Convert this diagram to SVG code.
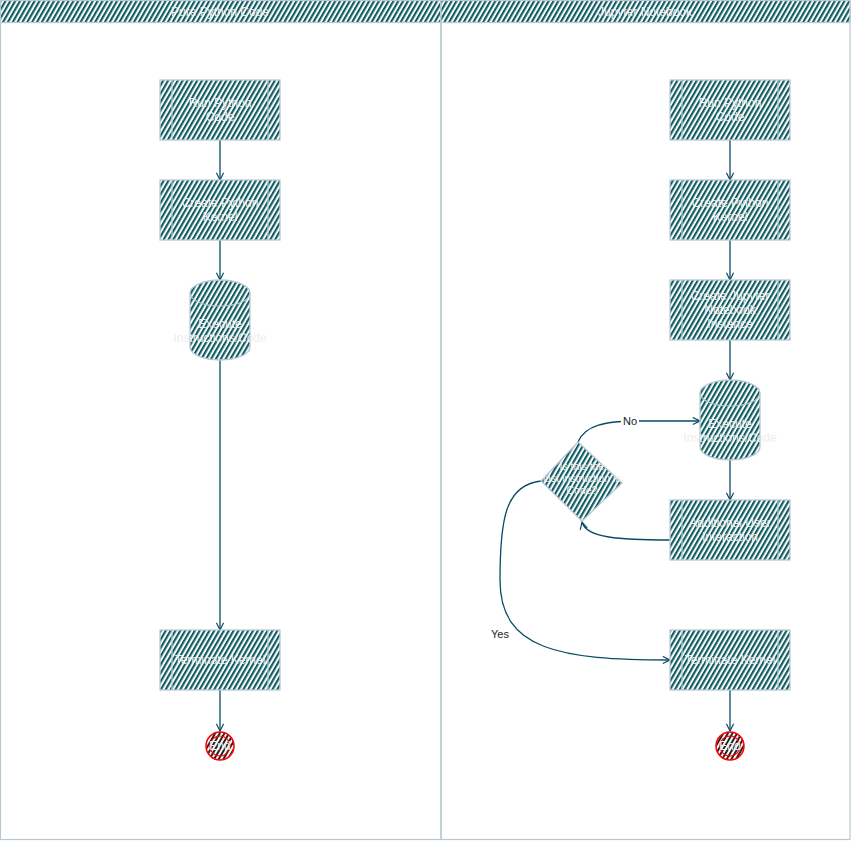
<svg xmlns="http://www.w3.org/2000/svg" width="851" height="841" viewBox="0 0 851 841">
<defs>
<pattern id="h" width="4.2" height="4.2" patternUnits="userSpaceOnUse" patternTransform="rotate(30)">
<rect width="4.2" height="4.2" fill="#ffffff"/>
<line x1="1" y1="0" x2="1" y2="4.2" stroke="#0f5c63" stroke-width="2.3"/>
</pattern>
<pattern id="hk" width="4" height="4" patternUnits="userSpaceOnUse" patternTransform="rotate(30)">
<rect width="4" height="4" fill="#ffffff"/>
<line x1="1" y1="0" x2="1" y2="4" stroke="#222222" stroke-width="2"/>
</pattern>
<marker id="a" viewBox="0 0 10 10" refX="9" refY="5" markerWidth="9" markerHeight="9" orient="auto" markerUnits="userSpaceOnUse">
<path d="M1,1 L9,5 L1,9" fill="none" stroke="#0b4a66" stroke-width="1.3"/>
</marker>
<style>
.n{fill:url(#h);stroke:#bac8d3;stroke-width:1.3}
.in{stroke:#bac8d3;stroke-width:1.2;fill:none}
.t{font-family:"Liberation Sans",Arial,sans-serif;font-size:12px;fill:#eeeeee;text-anchor:middle}
.ts{font-family:"Liberation Sans",Arial,sans-serif;font-size:10.5px;fill:#eeeeee;text-anchor:middle}
.ht{font-family:"Liberation Sans",Arial,sans-serif;font-size:12px;fill:#eeeeee;text-anchor:middle}
.c{fill:none;stroke:#0b4a66;stroke-width:1.3;marker-end:url(#a)}
.l{font-family:"Liberation Sans",Arial,sans-serif;font-size:11px;fill:#222222;text-anchor:middle}
.lane{fill:none;stroke:#bac8d3;stroke-width:1.2}
</style>
</defs>
<rect width="851" height="841" fill="#ffffff"/>
<g id="lane-left">
<rect class="lane" x="0.5" y="0.5" width="440.5" height="839"/>
<rect class="n" x="0.5" y="0.5" width="440.5" height="22"/>
<text class="ht" x="220" y="16">Pure Python Code</text>
</g>
<g id="lane-right">
<rect class="lane" x="441" y="0.5" width="409" height="839"/>
<rect class="n" x="441" y="0.5" width="409" height="22"/>
<text class="ht" x="645" y="16">Jupyter Notebook</text>
</g>
<g id="connectors">
<path class="c" d="M220,140 L220,180"/>
<path class="c" d="M220,240 L220,280"/>
<path class="c" d="M220,360 L220,630"/>
<path class="c" d="M220,690 L220,731"/>
<path class="c" d="M730,140 L730,180"/>
<path class="c" d="M730,240 L730,280"/>
<path class="c" d="M730,340 L730,380"/>
<path class="c" d="M730,460 L730,500"/>
<path class="c" d="M730,690 L730,731"/>
<path class="c" d="M670,540 C620,540 586,538 582,522"/>
<path class="c" d="M578,442 C585,425 605,421 640,421 L700,421"/>
<path class="c" d="M541,481 C505,485 500,520 500,580 C500,650 560,660 670,660"/>
<rect x="621" y="414" width="18" height="14" fill="#ffffff"/>
<text class="l" x="630" y="425">No</text>
<rect x="489" y="627" width="22" height="14" fill="#ffffff"/>
<text class="l" x="500" y="638">Yes</text>
</g>
<g id="l-run">
<rect class="n" x="160" y="80" width="120" height="60"/>
<path class="in" d="M172,80 V140 M268,80 V140"/>
<text class="t" x="220" y="107">Run Python</text><text class="t" x="220" y="121">Code</text>
</g>
<g id="l-kernel">
<rect class="n" x="160" y="180" width="120" height="60"/>
<path class="in" d="M172,180 V240 M268,180 V240"/>
<text class="t" x="220" y="207">Create Python</text><text class="t" x="220" y="221">Kernel</text>
</g>
<g id="l-exec">
<path class="n" d="M190,293 A30,13 0 0 1 250,293 V347 A30,13 0 0 1 190,347 Z"/>
<path class="in" d="M190,293 A30,13 0 0 0 250,293"/>
<text class="t" x="220" y="328">Execute</text><text class="t" x="220" y="342">Instructions/Code</text>
</g>
<g id="l-term">
<rect class="n" x="160" y="630" width="120" height="60"/>
<path class="in" d="M172,630 V690 M268,630 V690"/>
<text class="t" x="220" y="664">Terminate Kernel</text>
</g>
<g id="l-end">
<circle cx="220" cy="746" r="14" fill="url(#hk)" stroke="#ff0000" stroke-width="1.5"/>
<circle cx="220" cy="746" r="10" fill="none" stroke="#ff0000" stroke-width="1.2"/>
<text class="t" x="220" y="750">End</text>
</g>
<g id="r-run">
<rect class="n" x="670" y="80" width="120" height="60"/>
<path class="in" d="M682,80 V140 M778,80 V140"/>
<text class="t" x="730" y="107">Run Python</text><text class="t" x="730" y="121">Code</text>
</g>
<g id="r-kernel">
<rect class="n" x="670" y="180" width="120" height="60"/>
<path class="in" d="M682,180 V240 M778,180 V240"/>
<text class="t" x="730" y="207">Create Python</text><text class="t" x="730" y="221">Kernel</text>
</g>
<g id="r-notebook">
<rect class="n" x="670" y="280" width="120" height="60"/>
<path class="in" d="M682,280 V340 M778,280 V340"/>
<text class="t" x="730" y="300">Create Jupyter</text><text class="t" x="730" y="314">Notebook</text><text class="t" x="730" y="328">Instance</text>
</g>
<g id="r-exec">
<path class="n" d="M700,393 A30,13 0 0 1 760,393 V447 A30,13 0 0 1 700,447 Z"/>
<path class="in" d="M700,393 A30,13 0 0 0 760,393"/>
<text class="t" x="730" y="428">Execute</text><text class="t" x="730" y="442">Instructions/Code</text>
</g>
<g id="r-interaction">
<rect class="n" x="670" y="500" width="120" height="60"/>
<path class="in" d="M682,500 V560 M778,500 V560"/>
<text class="t" x="730" y="527">Additional User</text><text class="t" x="730" y="541">Interaction</text>
</g>
<g id="r-decision">
<path class="n" d="M578,442 L622,483 L582,521 L541,481 Z"/>
<text class="ts" x="582" y="470">Is this the</text><text class="ts" x="582" y="482">last instruction in</text><text class="ts" x="582" y="494">Code?</text>
</g>
<g id="r-term">
<rect class="n" x="670" y="630" width="120" height="60"/>
<path class="in" d="M682,630 V690 M778,630 V690"/>
<text class="t" x="730" y="664">Terminate Kernel</text>
</g>
<g id="r-end">
<circle cx="730" cy="746" r="14" fill="url(#hk)" stroke="#ff0000" stroke-width="1.5"/>
<circle cx="730" cy="746" r="10" fill="none" stroke="#ff0000" stroke-width="1.2"/>
<text class="t" x="730" y="750">End</text>
</g>
</svg>
